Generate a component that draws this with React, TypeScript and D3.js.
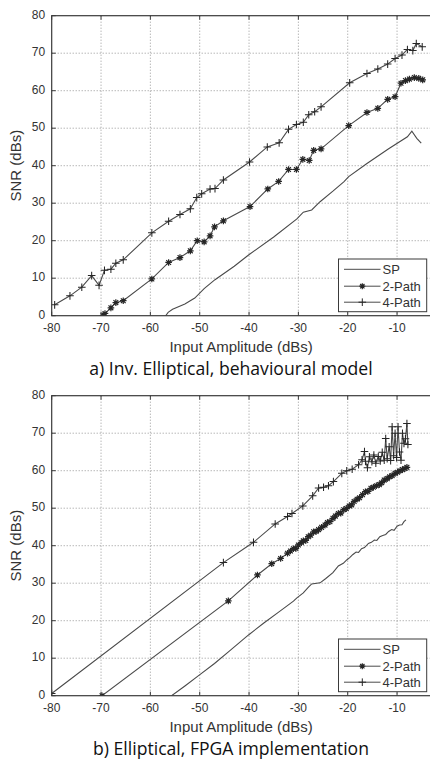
import React from 'react';
import * as d3 from 'd3';

type P = [number, number];

const xTicks = [-80, -70, -60, -50, -40, -30, -20, -10];
const yTicks = [0, 10, 20, 30, 40, 50, 60, 70, 80];
const seriesNames = ['SP', '2-Path', '4-Path'];
const captions = ['a) Inv. Elliptical, behavioural model', 'b) Elliptical, FPGA implementation'];
const xLabel = 'Input Amplitude (dBs)';
const yLabel = 'SNR (dBs)';

// (a) behavioural model
const topSP: P[] = [
  [-56.9, 0], [-56.4, 0.9], [-55.5, 1.7], [-53, 3.1], [-51, 4.7], [-49.1, 7.2], [-46.9, 9.6],
  [-43, 13.2], [-40.1, 16.2], [-35, 21], [-30.3, 25.8], [-29, 27.6], [-27.3, 28.2], [-25.6, 30.4],
  [-23, 33.2], [-20.8, 35.7], [-19.8, 37.1], [-16.1, 40.6], [-11.7, 44.5], [-7.9, 47.7], [-7, 49.2],
  [-6, 47.3], [-5.1, 46],
];
const top2Path: P[] = [
  [-69.6, 0], [-69.2, 0.6], [-68, 2.1], [-67, 3.5], [-65.5, 4], [-59.7, 9.8], [-56.3, 14.2],
  [-54, 15.5], [-51.9, 17.3], [-50.5, 20], [-49.1, 19.7], [-47.9, 21.3], [-47, 23.7], [-45.2, 25.3],
  [-39.8, 29.1], [-36.2, 33.8], [-34, 35.8], [-32, 39], [-30.4, 39], [-29.1, 41.7], [-27.8, 41.4],
  [-26.9, 44.1], [-25.4, 44.5], [-19.8, 50.7], [-16.1, 54.2], [-13.9, 55.3], [-11.9, 57.7],
  [-10.4, 58.4], [-9.2, 62], [-8.3, 62.7], [-7.5, 63.1], [-6.5, 63.5], [-5.6, 63.3], [-4.8, 62.9],
];
const top4Path: P[] = [
  [-79.4, 2.9], [-76.3, 5.3], [-73.9, 7.6], [-71.9, 10.7], [-70.4, 8.1], [-69.3, 12.1], [-68, 12.4],
  [-67, 14], [-65.5, 14.9], [-59.7, 22.1], [-56.3, 25.2], [-54, 27], [-51.9, 28.5], [-50.6, 31.5],
  [-49.6, 32.5], [-47.9, 33.8], [-46.9, 33.9], [-45.2, 36.2], [-39.9, 41], [-36.3, 45], [-33.9, 46.1],
  [-32, 49.7], [-30.4, 51], [-29, 51.6], [-27.9, 53.6], [-26.7, 54.4], [-25.4, 55.7], [-19.6, 62.1],
  [-16.1, 64.6], [-13.9, 65.8], [-11.9, 67.1], [-10.4, 68.6], [-9, 69.5], [-7.9, 71], [-6.8, 70.7],
  [-6.1, 72.6], [-4.9, 71.7],
];

// (b) FPGA implementation
const botSP: P[] = [
  [-55.7, 0], [-53, 2.6], [-50.1, 5.5], [-47, 8.6], [-44, 11.9], [-40.1, 16.2], [-37, 19.4],
  [-34, 22.3], [-31, 25.2], [-30.3, 26.1], [-29, 27.4], [-28, 28.9], [-27.3, 29.8], [-25.6, 30.1],
  [-24.5, 31.2], [-23, 32.8], [-21.9, 34.6], [-20.9, 35.3], [-20.2, 36.2], [-19.6, 36.8], [-19, 37.6],
  [-18.3, 38.3], [-17.8, 38.2], [-17.2, 39.2], [-16.6, 39.5], [-15.8, 40.6], [-15.2, 40.9], [-14.6, 41.5],
  [-14.1, 41.4], [-13.5, 42.4], [-12.9, 42.7], [-12.3, 43.0], [-11.7, 43.8], [-11.1, 44.3], [-10.6, 44.1],
  [-10.0, 45.2], [-9.5, 45.5], [-9.0, 45.6], [-8.6, 46.4], [-8.2, 46.9],
];
const bot2Path: P[] = [
  [-69.8, 0], [-44.2, 25.3], [-38.3, 32.2], [-35.4, 35.2], [-33.6, 36.6], [-32.2, 38.0], [-31.6, 38.6],
  [-31.0, 39.2], [-30.5, 39.3], [-30.0, 40.2], [-29.4, 40.8], [-29.0, 41.3], [-28.5, 41.4], [-28.0, 42.4],
  [-27.5, 42.8], [-26.9, 43.7], [-26.4, 43.8], [-25.9, 44.3], [-25.3, 44.9], [-24.6, 45.5], [-24.1, 46.2],
  [-23.6, 46.4], [-23.0, 47.3], [-22.5, 47.9], [-21.9, 48.6], [-21.4, 48.7], [-20.8, 49.6], [-20.3, 49.9],
  [-19.7, 50.6], [-19.2, 50.9], [-18.7, 51.8], [-18.1, 52.4], [-17.6, 52.8], [-17.0, 53.6], [-16.4, 54.4],
  [-15.9, 54.5], [-15.3, 55.3], [-14.8, 55.6], [-14.2, 56.0], [-13.6, 56.3], [-13.1, 56.8], [-12.6, 57.5],
  [-12.0, 57.9], [-11.5, 58.4], [-11.0, 58.7], [-10.4, 59.3], [-9.9, 59.6], [-9.4, 60.0], [-8.9, 60.3],
  [-8.4, 60.6], [-8.0, 60.9],
];
const bot4Path: P[] = [
  [-80, 0.6], [-45.2, 35.5], [-39.1, 40.9], [-34.7, 45.8], [-32.2, 47.8], [-31.3, 48.6], [-29.1, 50.6],
  [-27.1, 53.3], [-25.9, 55.4], [-24.9, 55.6], [-23.9, 56.0], [-22.9, 57.1], [-21.2, 59.3], [-20.2, 60.0],
  [-19.1, 60.4], [-17.8, 61.6], [-17.1, 62.9], [-16.6, 65.1], [-16.4, 62.5], [-16.0, 60.8], [-15.6, 63.7],
  [-15.1, 62.4], [-14.7, 64.2], [-14.3, 62.0], [-13.8, 63.8], [-13.4, 62.6], [-13.0, 64.9], [-12.6, 62.8],
  [-12.3, 68.6], [-12.0, 63.2], [-11.6, 66.4], [-11.3, 62.7], [-11.0, 71.7], [-10.7, 64.0], [-10.4, 70.0],
  [-10.1, 63.5], [-9.8, 71.7], [-9.5, 65.0], [-9.2, 62.8], [-8.9, 70.0], [-8.6, 67.3], [-8.3, 68.5],
  [-8.0, 72.6], [-7.8, 67.0],
];

const panelsData = [
  { sp: topSP, p2: top2Path, p4: top4Path },
  { sp: botSP, p2: bot2Path, p4: bot4Path },
];

const W = 430;
const H = 760;
const LEFT = 51.7;
const RIGHT = 430.6;
const PANEL_TOPS = [15.7, 395.7];
const PH = 300;
const FONT = "'Liberation Sans', Arial, sans-serif";
const CAPFONT = "'Open Sans', 'Noto Sans', sans-serif";
const AX = '#3a3a3a';
const LN = '#4a4a4a';

const x = d3.scaleLinear().domain([-80, -3.2]).range([LEFT, RIGHT]);

function plusPath(cx: number, cy: number, s: number) {
  return `M${cx - s},${cy}H${cx + s}M${cx},${cy - s}V${cy + s}`;
}
function starPath(cx: number, cy: number, s: number) {
  const d = s * 0.72;
  return plusPath(cx, cy, s) + `M${cx - d},${cy - d}L${cx + d},${cy + d}M${cx - d},${cy + d}L${cx + d},${cy - d}`;
}

function Panel({ idx }: { idx: number }) {
  const top = PANEL_TOPS[idx];
  const bottom = top + PH;
  const y = d3.scaleLinear().domain([0, 80]).range([bottom, top]);
  const data = panelsData[idx];
  const line = d3.line<P>().x((d) => x(d[0])).y((d) => y(d[1]));
  const clipId = `clip${idx}`;
  const lx0 = 338.5, lx1 = 426.7, ly0 = top + 243.3, ly1 = top + 296;
  const legendYs = [top + 253.6, top + 270.5, top + 286.5];
  return (
    <g>
      <defs>
        <clipPath id={clipId}>
          <rect x={LEFT} y={top} width={RIGHT - LEFT} height={PH} />
        </clipPath>
      </defs>
      {/* grid */}
      {xTicks.filter((t) => t !== -80).map((t) => (
        <line key={'gx' + t} x1={x(t)} x2={x(t)} y1={top} y2={bottom} stroke="#8c8c8c" strokeWidth={0.9} strokeDasharray="1,2" />
      ))}
      {yTicks.filter((t) => t !== 0 && t !== 80).map((t) => (
        <line key={'gy' + t} x1={LEFT} x2={RIGHT} y1={y(t)} y2={y(t)} stroke="#8c8c8c" strokeWidth={0.9} strokeDasharray="1,2" />
      ))}
      {/* data */}
      <g clipPath={`url(#${clipId})`} fill="none">
        <path d={line(data.sp) || ''} stroke={LN} strokeWidth={1.1} />
        <path d={line(data.p2) || ''} stroke={LN} strokeWidth={1.1} />
        <path d={line(data.p4) || ''} stroke={LN} strokeWidth={1.1} />
        {data.p2.map((d, i) => (
          <path key={'m2' + i} d={starPath(x(d[0]), y(d[1]), 3.3)} stroke="#262626" strokeWidth={1.2} />
        ))}
        {data.p4.map((d, i) => (
          <path key={'m4' + i} d={plusPath(x(d[0]), y(d[1]), 3.8)} stroke="#262626" strokeWidth={1.05} />
        ))}
      </g>
      {/* axes box */}
      <rect x={LEFT} y={top} width={RIGHT - LEFT} height={PH} fill="none" stroke={AX} strokeWidth={1.2} />
      {/* ticks */}
      {xTicks.map((t) => (
        <g key={'tx' + t}>
          <line x1={x(t)} x2={x(t)} y1={bottom} y2={bottom - 4} stroke={AX} />
          <line x1={x(t)} x2={x(t)} y1={top} y2={top + 4} stroke={AX} />
          <text x={x(t)} y={bottom + 16.5} textAnchor="middle" fontFamily={FONT} fontSize={12} fill="#333">
            {t}
          </text>
        </g>
      ))}
      {yTicks.map((t) => (
        <g key={'ty' + t}>
          <line x1={LEFT} x2={LEFT + 4} y1={y(t)} y2={y(t)} stroke={AX} />
          <text x={LEFT - 6.5} y={y(t) + 3} textAnchor="end" fontFamily={FONT} fontSize={12} fill="#333">
            {t}
          </text>
        </g>
      ))}
      {/* axis labels */}
      <text x={(LEFT + RIGHT) / 2} y={bottom + 36.5} textAnchor="middle" fontFamily={FONT} fontSize={15} fill="#333">
        {xLabel}
      </text>
      <text
        transform={`translate(${20.5},${(top + bottom) / 2}) rotate(-90)`}
        textAnchor="middle"
        fontFamily={FONT}
        fontSize={15}
        fill="#333"
      >
        {yLabel}
      </text>
      {/* legend */}
      <rect x={lx0} y={ly0} width={lx1 - lx0} height={ly1 - ly0} fill="#fff" stroke={AX} strokeWidth={1} />
      {seriesNames.map((name, i) => (
        <g key={name}>
          <line x1={344} x2={380.5} y1={legendYs[i]} y2={legendYs[i]} stroke={LN} />
          {i === 1 && <path d={starPath(362.3, legendYs[i], 3)} stroke="#262626" strokeWidth={1.2} fill="none" />}
          {i === 2 && <path d={plusPath(362.3, legendYs[i], 3.8)} stroke="#262626" fill="none" />}
          <text x={382.5} y={legendYs[i] + 4.6} fontFamily={FONT} fontSize={13} fill="#333">
            {name}
          </text>
        </g>
      ))}
      {/* caption */}
      <text x={231} y={bottom + 58.8} textAnchor="middle" fontFamily={CAPFONT} fontSize={17.6} fill="#111">
        {captions[idx]}
      </text>
    </g>
  );
}

export default function App() {
  return (
    <svg
      width={W}
      height={H}
      viewBox={`0 0 ${W} ${H}`}
      style={{ position: 'absolute', left: 0, top: 0, background: '#fff' }}
    >
      <rect x={0} y={0} width={W} height={H} fill="#fff" />
      <Panel idx={0} />
      <Panel idx={1} />
    </svg>
  );
}
